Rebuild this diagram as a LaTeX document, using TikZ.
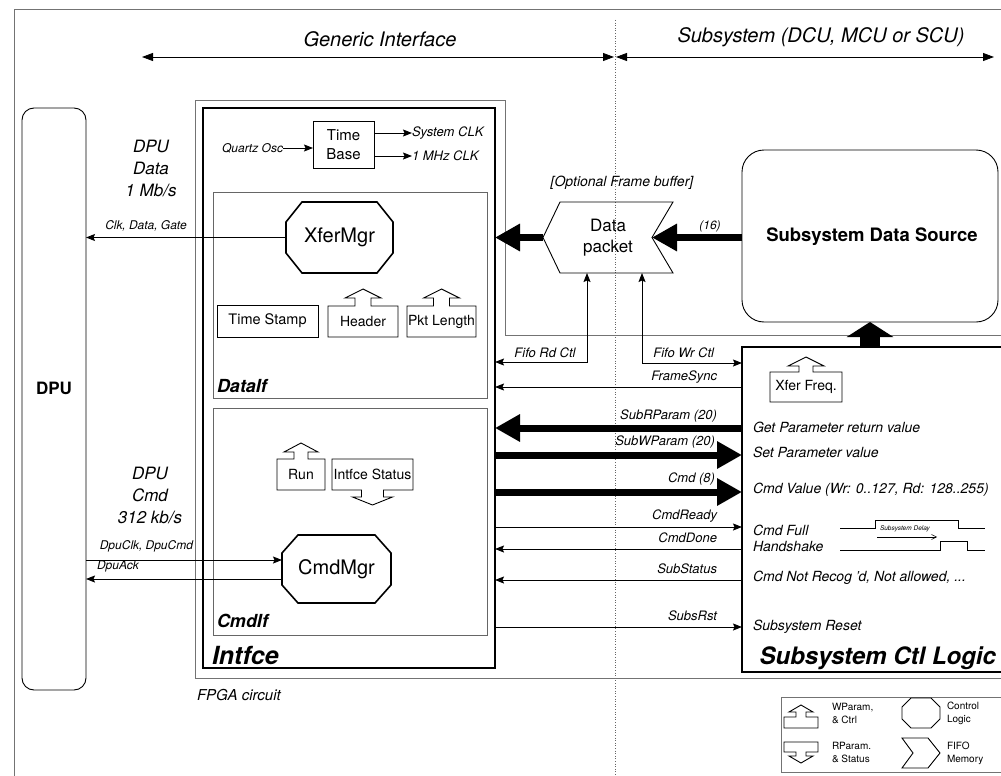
\documentclass[tikz,border=0pt]{standalone}
\usepackage{fontspec}
\setmainfont{TeX Gyre Heros}
\usetikzlibrary{arrows.meta,calc}
\newcommand\fsz[1]{\fontsize{#1}{#1}\selectfont}
\newcommand\myoct[4][octline]{%
 \draw[#1] ([xshift=#3]#2.north west) -- ([xshift=-#3]#2.north east) -- ([yshift=-#4]#2.north east) -- ([yshift=#4]#2.south east) -- ([xshift=-#3]#2.south east) -- ([xshift=#3]#2.south west) -- ([yshift=#4]#2.south west) -- ([yshift=-#4]#2.north west) -- cycle;}
\newcommand\myupbox[6][boxline]{%
 \draw[#1] (#2.south west) -- (#2.north west) -- ($(#2.north)+(-#3,0)$) -- ($(#2.north)+(-#3,-#5)$) -- ($(#2.north)+(-#4,-#5)$) -- ($(#2.north)+(0,-#5-#6)$) -- ($(#2.north)+(#4,-#5)$) -- ($(#2.north)+(#3,-#5)$) -- ($(#2.north)+(#3,0)$) -- (#2.north east) -- (#2.south east) -- cycle;}
\newcommand\mydownbox[6][boxline]{%
 \draw[#1] (#2.north west) -- (#2.north east) -- (#2.south east) -- ($(#2.south)+(#3,0)$) -- ($(#2.south)+(#3,#5)$) -- ($(#2.south)+(#4,#5)$) -- ($(#2.south)+(0,#5+#6)$) -- ($(#2.south)+(-#4,#5)$) -- ($(#2.south)+(-#3,#5)$) -- ($(#2.south)+(-#3,0)$) -- (#2.south west) -- cycle;}
\begin{document}
\begin{tikzpicture}[x=1pt,y=-1pt,
  every node/.style={inner sep=0pt,outer sep=0pt},
  >={Stealth[length=9pt,width=7pt,inset=1.5pt]},
  sig/.style={line width=0.9pt},
  fat/.style={line width=7pt,-{Triangle[length=25pt,width=26pt]}},
  hdr/.style={line width=0.8pt,{Triangle[length=11pt,width=8pt]}-{Triangle[length=11pt,width=8pt]}},
  frameline/.style={draw=black!55,line width=0.6pt},
  graybox/.style={draw=black!60,line width=0.8pt},
  boxline/.style={draw=black,line width=0.9pt},
  octline/.style={draw=black,line width=1.6pt},
  thickbox/.style={draw=black,line width=2.5pt},
  desc/.style={font=\itshape\fsz{14},anchor=west},
  siglbl/.style={font=\itshape\fsz{13},anchor=east},
  leg/.style={font=\fsz{10},align=left,anchor=west}]
\useasboundingbox (0,0) rectangle (1001,776);
\clip (0,0) rectangle (1001,776);
\fill[white] (0,0) rectangle (1001,776);

% outer frame and divider
\draw[frameline] (14,776) -- (14,9) -- (1001,9);
\draw[draw=black!60,line width=0.6pt,dotted] (615,20) -- (615,776);

% header
\node[font=\itshape\fsz{20}] (gi) at (380,39) {Generic Interface};
\node[font=\itshape\fsz{20}] (ssh) at (821,37) {Subsystem (DCU, MCU or SCU)};
\coordinate (hl) at (142,57);
\coordinate (hm1) at (614,57);
\coordinate (hm2) at (616,57);
\coordinate (hr) at (994,57);
\draw[hdr] (hl) -- (hm1);
\draw[hdr] (hm2) -- (hr);

% FPGA circuit border
\draw[frameline] (195,678) -- (195,100) -- (505,100) -- (505,335) -- (1003,335);
\draw[frameline] (195,678) -- (1003,678);
\node[font=\itshape\fsz{15},anchor=west] (fpga) at (197,695) {FPGA circuit};

% DPU
\node[draw,line width=0.9pt,rounded corners=12pt,minimum width=64,minimum height=582] (dpu) at (54,399) {};
\node[font=\bfseries\fsz{17}] (dpul) at (54,388) {DPU};
\node[font=\itshape\fontsize{17}{22}\selectfont,align=center] (dpud) at (151,168) {DPU\\Data\\1 Mb/s};
\node[font=\itshape\fontsize{17}{22}\selectfont,align=center] (dpuc) at (150,495) {DPU\\Cmd\\312 kb/s};
\node[font=\itshape\fsz{12}] (cdg) at (146,226) {Clk, Data, Gate};
\node[font=\itshape\fsz{12},anchor=east] (dcl) at (193,546) {DpuClk, DpuCmd};
\node[font=\itshape\fsz{12},anchor=west] (dak) at (97,566) {DpuAck};

% Intfce
\node[thickbox,minimum width=292,minimum height=560] (intf) at (349,388) {};
\node[font=\bfseries\itshape\fsz{25},anchor=west] (intfl) at (212,655) {Intfce};

% Time base
\node[boxline,minimum width=61,minimum height=47,align=center,font=\fontsize{15}{19}\selectfont] (tb) at (343.5,144.5) {Time\\Base};
\node[font=\itshape\fsz{12},anchor=east] (qz) at (283,148) {Quartz Osc};
\draw[sig,->] (qz.east) -- (tb.west |- qz.east);
\node[font=\itshape\fsz{13},anchor=west] (sclk) at (412,133) {System CLK};
\node[font=\itshape\fsz{13},anchor=west] (mclk) at (412,156) {1 MHz CLK};
\draw[sig,->] (tb.east |- sclk.west) -- (sclk.west);
\draw[sig,->] (tb.east |- mclk.west) -- (mclk.west);

% DataIf
\node[graybox,minimum width=274,minimum height=206] (dif) at (350,295) {};
\node[font=\bfseries\itshape\fsz{18},anchor=west] (difl) at (217,386) {DataIf};
\node[minimum width=107,minimum height=71,font=\fsz{20}] (xfer) at (339.5,237.5) {XferMgr};
\myoct{xfer}{16}{20}
\draw[sig,->] (xfer.west) -- (dpu.east |- xfer.west);
\node[boxline,minimum width=101,minimum height=32,font=\fsz{14.5}] (ts) at (267.5,321) {Time Stamp};
\node[minimum width=70,minimum height=31,font=\fsz{14}] (hdrb) at (363,321.5) {Header};
\myupbox{hdrb}{8}{18}{8}{9}
\node[minimum width=69,minimum height=31,font=\fsz{14}] (pkl) at (441.5,321.5) {Pkt Length};
\myupbox{pkl}{8}{18}{8}{9}

% CmdIf
\node[graybox,minimum width=274,minimum height=227] (cif) at (350,521.5) {};
\node[font=\bfseries\itshape\fsz{18},anchor=west] (cifl) at (217,621) {CmdIf};
\node[minimum width=48,minimum height=31,font=\fsz{14}] (run) at (301,474.5) {Run};
\myupbox{run}{7}{17}{7}{9}
\node[minimum width=81,minimum height=31,font=\fsz{14}] (ist) at (372.5,474.5) {Intfce Status};
\mydownbox{ist}{11}{20}{7}{8}
\node[minimum width=109,minimum height=68,font=\fsz{20}] (cmdm) at (336.5,569) {CmdMgr};
\myoct{cmdm}{16}{18}
\draw[sig,->] (dpu.east |- 0,560) -- (cmdm.west |- 0,560);
\draw[sig,->] (cmdm.west |- 0,579) -- (dpu.east |- 0,579);

% Data packet and data source
\node[minimum width=130,minimum height=71,align=center,font=\fontsize{17}{21}\selectfont] (pkt) at (608,237.5) {Data\\packet};
\draw[boxline] (pkt.west) -- ([xshift=17]pkt.north west) -- (pkt.north east) -- ([xshift=-21]pkt.east) -- (pkt.south east) -- ([xshift=17]pkt.south west) -- cycle;
\coordinate (notch) at ([xshift=-21]pkt.east);
\node[font=\itshape\fsz{14}] (ofb) at (622,183) {[Optional Frame buffer]};
\node[draw,line width=0.9pt,rounded corners=22pt,minimum width=256,minimum height=172] (src) at (870,236) {};
\node[font=\bfseries\fsz{18.5}] (srcl) at (872,237) {Subsystem Data Source};
\draw[fat] (pkt.west) -- (intf.east |- pkt.west);
\draw[fat] (src.west |- notch) -- (notch);
\node[font=\itshape\fsz{12}] (l16) at (710,226) {(16)};

% Subsystem Ctl Logic
\node[thickbox,minimum width=261,minimum height=325] (ctl) at (872.5,509.5) {};
\draw[line width=20pt,-{Triangle[length=15pt,width=46pt]}] (src.south |- ctl.north) -- (src.south);
\node[font=\bfseries\itshape\fsz{24},anchor=east] (ctll) at (996,658) {Subsystem Ctl Logic};
\node[minimum width=72,minimum height=30,font=\fsz{14}] (xf) at (806,387) {Xfer Freq.};
\myupbox{xf}{7}{18}{6}{9}

% Fifo control
\draw[sig,<->] (intf.east |- 0,362) -| ([xshift=-21]pkt.south);
\draw[sig,<->] (ctl.west |- 0,363) -| ([xshift=34]pkt.south);
\node[font=\itshape\fsz{13}] (frd) at (545,353) {Fifo Rd Ctl};
\node[siglbl] (fwr) at (714,353) {Fifo Wr Ctl};

% signals between Intfce and Subsystem Ctl Logic
\draw[sig,->] (ctl.west |- 0,387) -- (intf.east |- 0,387);
\node[siglbl] (fsy) at (717,377) {FrameSync};
\draw[fat] (ctl.west |- 0,428) -- (intf.east |- 0,428);
\node[siglbl] (srp) at (717,416) {SubRParam (20)};
\draw[fat] (intf.east |- 0,455) -- (ctl.west |- 0,455);
\node[siglbl] (swp) at (715,442) {SubWParam (20)};
\draw[fat] (intf.east |- 0,492) -- (ctl.west |- 0,492);
\node[siglbl] (cm8) at (715,479) {Cmd (8)};
\draw[sig,->] (intf.east |- 0,527) -- (ctl.west |- 0,527);
\node[siglbl] (crd) at (717,516) {CmdReady};
\draw[sig,->] (ctl.west |- 0,549) -- (intf.east |- 0,549);
\node[siglbl] (cdn) at (717,538) {CmdDone};
\draw[sig,->] (ctl.west |- 0,580) -- (intf.east |- 0,580);
\node[siglbl] (sst) at (717,569) {SubStatus};
\draw[sig,->] (intf.east |- 0,627) -- (ctl.west |- 0,627);
\node[siglbl] (srs) at (717,616) {SubsRst};

% descriptions
\node[desc] (d1) at (753,427) {Get Parameter return value};
\node[desc] (d2) at (753,452) {Set Parameter value};
\node[desc] (d3) at (753,490) {Cmd Value (Wr: 0..127, Rd: 128..255)};
\node[desc,align=left,font=\itshape\fontsize{14}{16}\selectfont] (d4) at (753,538) {Cmd Full\\Handshake};
\node[desc] (d5) at (753,578) {Cmd Not Recog 'd, Not allowed, ...};
\node[desc] (d6) at (753,627) {Subsystem Reset};

% timing
\draw[line width=0.6pt] (840,528) -- (875,528) -- (875,520) -- (958,520) -- (958,528) -- (985,528);
\draw[line width=0.6pt] (840,550) -- (940,550) -- (940,541) -- (967,541) -- (967,550) -- (985,550);
\node[font=\itshape\fsz{6.5},anchor=west] (sdl) at (880,529) {Subsystem Delay};
\coordinate (da) at (877,537);
\coordinate (db) at (937,537);
\draw[line width=0.5pt,-{Straight Barb[length=5pt,width=5pt]}] (da) -- (db);

% legend
\draw[frameline] (1003,697) -- (781,697) -- (781,772) -- (1003,772);
\node[minimum width=34,minimum height=11] (lw) at (801,722.5) {};
\myupbox{lw}{5}{12}{5}{7}
\node[leg,font=\fontsize{10}{13}\selectfont] (lwt) at (832,713.5) {WParam,\\\& Ctrl};
\node[minimum width=34,minimum height=10] (lr) at (801,747) {};
\mydownbox{lr}{5}{12}{4}{7}
\node[leg,font=\fontsize{10}{13}\selectfont] (lrt) at (832,752.5) {RParam.\\\& Status};
\node[minimum width=38,minimum height=30] (lo) at (921,713) {};
\myoct[boxline]{lo}{9}{9}
\node[leg,font=\fontsize{10}{13}\selectfont] (lot) at (947,713.5) {Control\\Logic};
\node[minimum width=38,minimum height=30] (lf) at (921,753) {};
\draw[boxline] (lf.north west) -- ([xshift=-12]lf.north east) -- (lf.east) -- ([xshift=-12]lf.south east) -- (lf.south west) -- ([xshift=11]lf.west) -- cycle;
\node[leg,font=\fontsize{10}{13}\selectfont] (lft) at (947,753.5) {FIFO\\Memory};
\end{tikzpicture}
\end{document}
